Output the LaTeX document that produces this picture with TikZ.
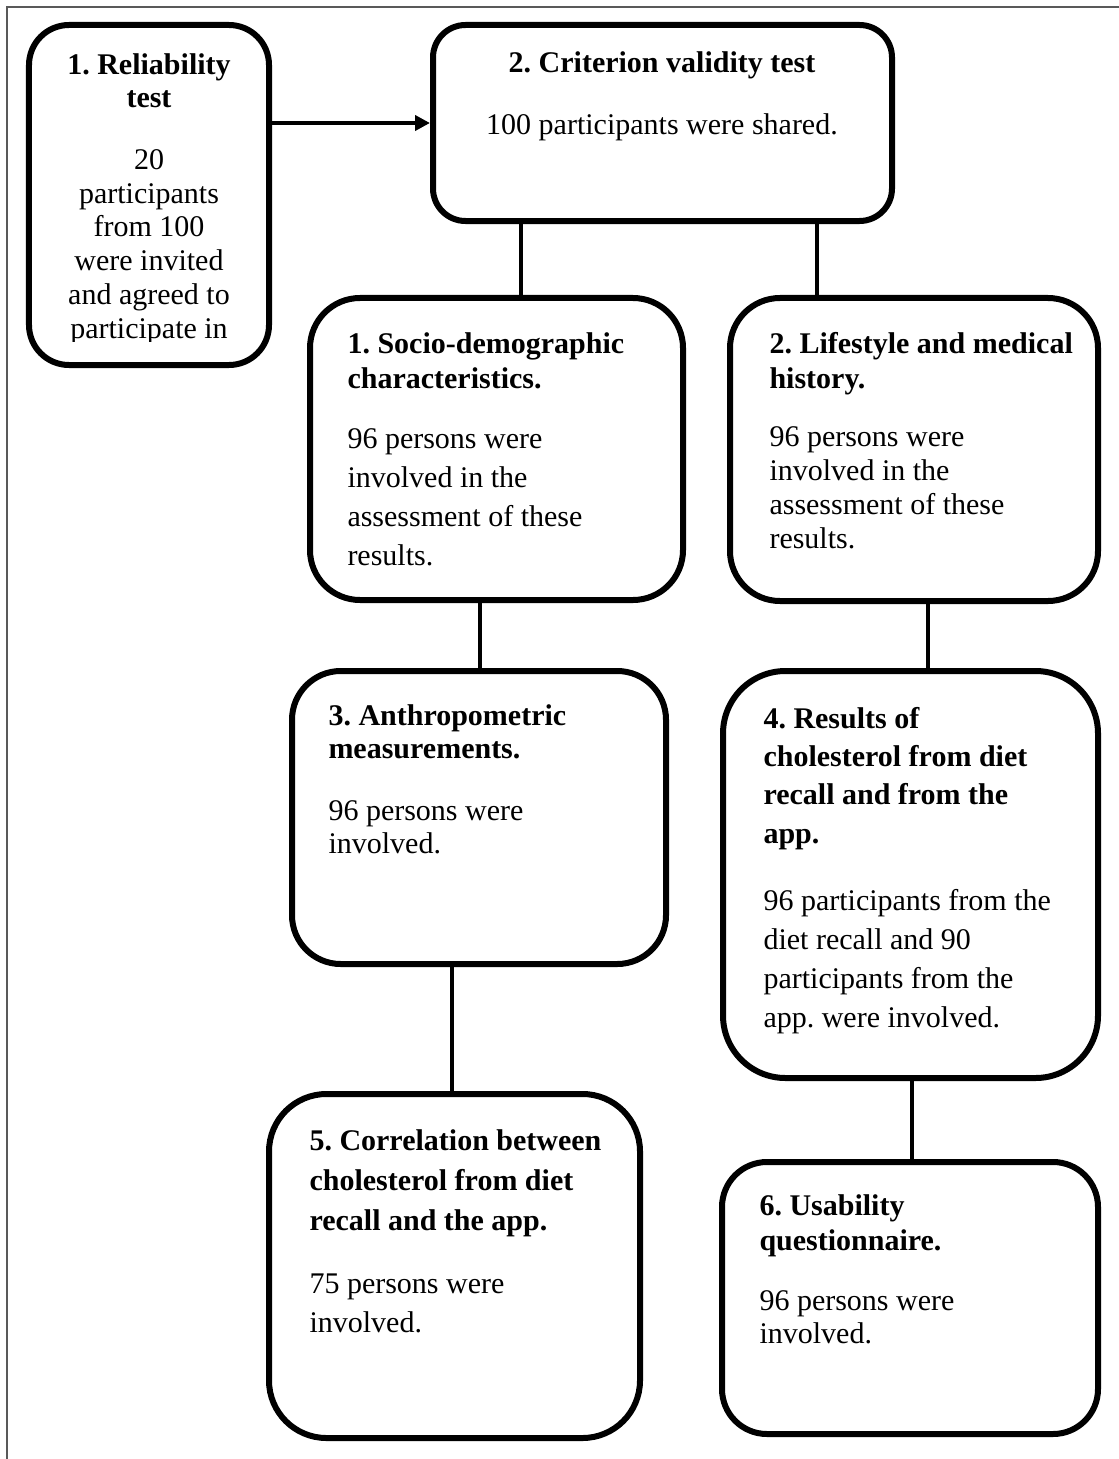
\documentclass[tikz,border=0pt]{standalone}
\usepackage{fontspec}
\setmainfont{Liberation Serif}
\usetikzlibrary{arrows.meta}
\begin{document}
\begin{tikzpicture}[x=0.4pt,y=-0.4pt,
  stage/.style={draw,line width=2.4pt,rounded corners=#1,inner sep=0pt},
  stage/.default=18pt,
  head/.style={inner sep=0pt,align=left,font=\fontsize{12}{#1}\selectfont\bfseries\frenchspacing},
  head/.default=14pt,
  body/.style={inner sep=0pt,align=left,font=\fontsize{12}{#1}\selectfont\frenchspacing},
  body/.default=13.5pt,
  link/.style={line width=1.8pt},
  flow/.style={line width=1.6pt,-{Triangle[length=6pt,width=6pt]}}]
\useasboundingbox (0,0) rectangle (1119,1459);
\draw[line width=1pt,black!65] (7,1459) -- (7,7) -- (1119,7);
% boxes
\node[stage=16pt,minimum width=96pt,minimum height=136pt] (rel) at (149,195) {};
\node[stage=13pt,minimum width=183.6pt,minimum height=78.4pt] (crit) at (662.5,123) {};
\node[stage=20pt,minimum width=149.2pt,minimum height=120.8pt] (soc) at (496.5,449) {};
\node[stage=20pt,minimum width=147.2pt,minimum height=121.2pt] (life) at (914,449.5) {};
\node[stage=19.5pt,minimum width=149.6pt,minimum height=117.2pt] (anth) at (479,817.5) {};
\node[stage=25pt,minimum width=150pt,minimum height=162.8pt] (chol) at (910.5,874.5) {};
\node[stage=23pt,minimum width=148.4pt,minimum height=137.6pt] (corr) at (454.5,1266) {};
\node[stage=18pt,minimum width=150.4pt,minimum height=108.8pt] (usab) at (910,1298) {};
% texts (anchored at the baseline of their last line)
\node[head=13.2pt,align=center,anchor=base] (relh) at (149,108) {1. Reliability\\test};
\begin{scope}
\clip (32,28) rectangle (266,341);
\node[body=13.5pt,align=center,anchor=base] (relb) at (149,338)
  {20\\participants\\from 100\\were invited\\and agreed to\\participate in};
\end{scope}
\node[head,anchor=base] (crith) at (662,73) {2. Criterion validity test};
\node[body,anchor=base] (critb) at (662,135) {100 participants were shared.};
\node[head,anchor=base west] (soch) at (347,388) {1. Socio-demographic\\characteristics.};
\node[body=15.6pt,anchor=base west] (socb) at (347,565)
  {96 persons were\\involved in the\\assessment of these\\results.};
\node[head,anchor=base west] (lifeh) at (769,388) {2. Lifestyle and medical\\history.};
\node[body,anchor=base west] (lifeb) at (769,548)
  {96 persons were\\involved in the\\assessment of these\\results.};
\node[head=13.2pt,anchor=base west] (anthh) at (328,758) {3. Anthropometric\\measurements.};
\node[body=13.2pt,anchor=base west] (anthb) at (328,853) {96 persons were\\involved.};
\node[head=15.3pt,anchor=base west] (cholh) at (763,843)
  {4. Results of\\cholesterol from diet\\recall and from the\\app.};
\node[body=15.6pt,anchor=base west] (cholb) at (763,1027)
  {96 participants from the\\diet recall and 90\\participants from the\\app. were involved.};
\node[head=16pt,anchor=base west] (corrh) at (309,1230)
  {5. Correlation between\\cholesterol from diet\\recall and the app.};
\node[body=15.6pt,anchor=base west] (corrb) at (309,1332) {75 persons were\\involved.};
\node[head,anchor=base west] (usabh) at (759,1250) {6. Usability\\questionnaire.};
\node[body=13.2pt,anchor=base west] (usabb) at (759,1343) {96 persons were\\involved.};
% connectors
\draw[flow] (rel.east |- crit.west) -- (crit.west);
\draw[link] (crit.south -| 521,0) -- (soc.north -| 521,0);
\draw[link] (crit.south -| 817,0) -- (life.north -| 817,0);
\draw[link] (soc.south -| 480,0) -- (anth.north -| 480,0);
\draw[link] (life.south -| 928,0) -- (chol.north -| 928,0);
\draw[link] (anth.south -| 452,0) -- (corr.north -| 452,0);
\draw[link] (chol.south -| 912,0) -- (usab.north -| 912,0);
\end{tikzpicture}
\end{document}
